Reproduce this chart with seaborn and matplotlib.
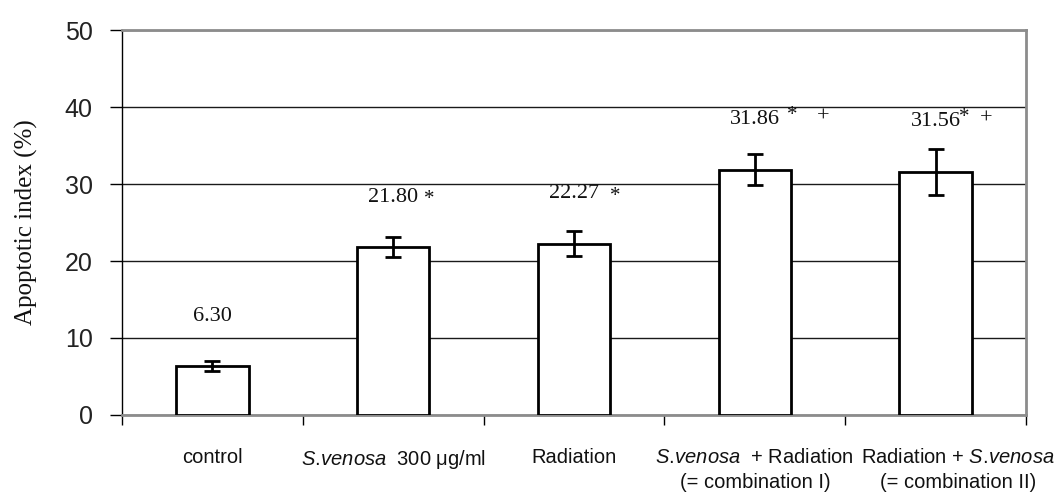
import matplotlib
matplotlib.use("Agg")
import matplotlib.pyplot as plt
from matplotlib.transforms import ScaledTranslation
import seaborn as sns
import numpy as np

# Treatment groups and apoptotic index (mean ± SD)
groups = ["control", "S.venosa 300", "Radiation", "S.venosa + Radiation", "Radiation + S.venosa"]
tick_labels = [
    "control",
    r"$\it{S.\!venosa}$  300 μg/ml",
    "Radiation",
    "$\\it{S.\\!venosa}$  + Radiation\n(= combination I)",
    "Radiation + $\\it{S.\\!venosa}$\n(= combination II)",
]
means = [6.30, 21.80, 22.27, 31.86, 31.56]
errors = [0.65, 1.3, 1.6, 2.0, 3.0]
value_text = ["6.30", "21.80", "22.27", "31.86", "31.56"]
star_marks = ["", "*", "*", "*", "*"]
plus_marks = ["", "", "", "+", "+"]

sns.set_style("white")
plt.rcParams["mathtext.fontset"] = "custom"
plt.rcParams["mathtext.rm"] = "Liberation Sans"
plt.rcParams["mathtext.it"] = "Liberation Sans:italic"
plt.rcParams["font.family"] = ["Liberation Sans", "DejaVu Sans"]

fig = plt.figure(figsize=(10.58, 4.97), dpi=100)
ax = fig.add_axes([0.1153, 0.165, 0.8545, 0.7746])

sns.barplot(x=groups, y=means, order=groups, color="white", edgecolor="black",
            linewidth=2, width=0.4, errorbar=None, saturation=1, ax=ax, zorder=3)
ax.errorbar(np.arange(len(groups)), means, yerr=errors, fmt="none", ecolor="black",
            elinewidth=2, capsize=5.5, capthick=2, zorder=4)

ax.set_ylim(0, 50)
ax.set_xlim(-0.5, len(groups) - 0.5)
ax.set_yticks([0, 10, 20, 30, 40, 50])
ax.yaxis.grid(True, color="#1a1a1a", linewidth=1)
ax.set_axisbelow(True)

for side in ["top", "right", "bottom"]:
    ax.spines[side].set_color("#8c8c8c")
    ax.spines[side].set_linewidth(2)
ax.spines["left"].set_color("black")
ax.spines["left"].set_linewidth(1)

ax.tick_params(axis="y", which="major", left=True, direction="out", length=9, width=1,
               color="black", labelsize=18, pad=12, labelcolor="#222222")
ax.set_xticks(np.arange(len(groups)))
ax.set_xticklabels(tick_labels)
ax.set_xticks(np.arange(len(groups) + 1) - 0.5, minor=True)
ax.tick_params(axis="x", which="major", length=0, labelsize=14.5, pad=24, labelcolor="#111111")
ax.tick_params(axis="x", which="minor", bottom=True, direction="out", length=7, width=1, color="black")
for lab in ax.get_xticklabels():
    lab.set_linespacing(1.35)
# the last category label sits a little right of its bar
last = ax.get_xticklabels()[-1]
last.set_transform(last.get_transform() + ScaledTranslation(22 / 100, 0, fig.dpi_scale_trans))

ax.set_xlabel("")
ax.set_ylabel("Apoptotic index (%)", family="Liberation Serif", fontsize=18, color="#111111")
ax.yaxis.set_label_coords(-0.093, 0.5)

# value labels with significance marks
star_dx = [0, 22, 26, 23, 17]
star_dy = [0, -2, -2, 3, 3]
plus_dx = [0, 0, 0, 45, 32]
for i, (m, txt) in enumerate(zip(means, value_text)):
    y = m + 6.5
    ax.text(i, y, txt, ha="center", va="center", family="Liberation Serif", fontsize=16, color="#111111")
    if star_marks[i]:
        ax.annotate(star_marks[i], (i, y), xytext=(star_dx[i], star_dy[i]), textcoords="offset points",
                    ha="left", va="center", family="Liberation Serif", fontsize=15, color="#111111")
    if plus_marks[i]:
        ax.annotate(plus_marks[i], (i, y), xytext=(plus_dx[i], 2), textcoords="offset points",
                    ha="left", va="center", family="Liberation Serif", fontsize=16, color="#111111")

fig.savefig("out.png", dpi=100)
